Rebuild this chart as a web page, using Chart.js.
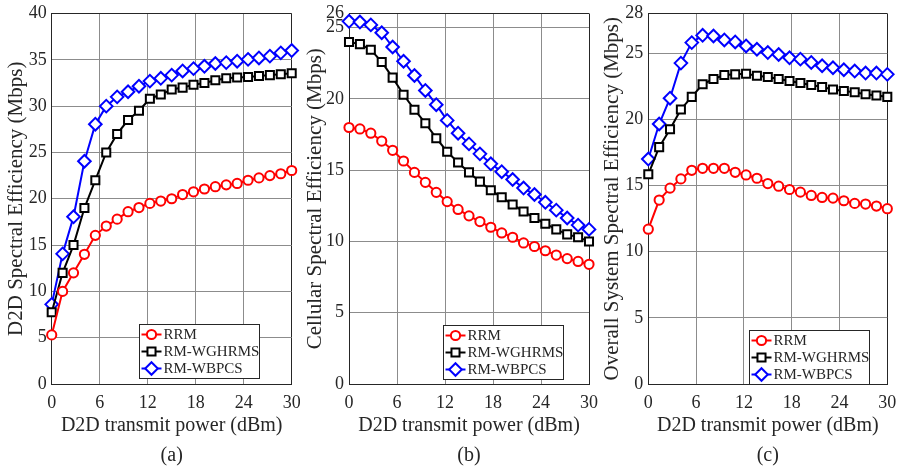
<!DOCTYPE html>
<html lang="en">
<head>
<meta charset="UTF-8">
<title>Spectral efficiency vs D2D transmit power</title>
<style>
    body { margin: 0; background: #fff; }
    .panel { position: absolute; top: 0; width: 300px; height: 468px; }
    #pa { left: 0; }
    #pb { left: 300px; }
    #pc { left: 599px; }
</style>
</head>
<body>
<div class="panel" id="pa"><canvas id="chartA" width="300" height="468"></canvas></div>
<div class="panel" id="pb"><canvas id="chartB" width="300" height="468"></canvas></div>
<div class="panel" id="pc"><canvas id="chartC" width="300" height="468"></canvas></div>

<script src="https://cdnjs.cloudflare.com/ajax/libs/Chart.js/4.4.1/chart.umd.min.js"></script>
<script>
// x values (dBm)
const power = [0, 1.364, 2.727, 4.091, 5.455, 6.818, 8.182, 9.545, 10.909, 12.273, 13.636, 15,
               16.364, 17.727, 19.091, 20.455, 21.818, 23.182, 24.545, 25.909, 27.273, 28.636, 30];
const xTicks = [0, 6, 12, 18, 24, 30];
const names = ['RRM', 'RM-WGHRMS', 'RM-WBPCS'];

// (a) D2D spectral efficiency
const d2dRRM = [5.3, 10.0, 12.0, 14.0, 16.05, 17.05, 17.8, 18.6, 19.05, 19.5, 19.75, 20.0,
                20.45, 20.75, 21.05, 21.3, 21.5, 21.65, 22.0, 22.25, 22.5, 22.7, 23.05];
const d2dWGHRMS = [7.75, 12.0, 15.0, 19.0, 22.0, 25.0, 27.0, 28.5, 29.5, 30.8, 31.25, 31.8,
                   32.0, 32.3, 32.5, 32.8, 33.0, 33.1, 33.15, 33.25, 33.35, 33.45, 33.55];
const d2dWBPCS = [8.6, 14.05, 18.05, 24.05, 28.05, 30.0, 31.0, 31.55, 32.15, 32.7, 33.0, 33.35,
                  33.8, 34.05, 34.3, 34.6, 34.7, 34.85, 35.05, 35.2, 35.4, 35.75, 36.0];
const d2dTicks = [0, 5, 10, 15, 20, 25, 30, 35, 40];

// (b) cellular spectral efficiency
const cellRRM = [18.0, 17.9, 17.6, 17.05, 16.4, 15.65, 14.85, 14.15, 13.45, 12.8, 12.25, 11.8,
                 11.4, 11.0, 10.6, 10.3, 9.9, 9.65, 9.35, 9.05, 8.8, 8.6, 8.4];
const cellWGHRMS = [24.0, 23.85, 23.45, 22.6, 21.5, 20.3, 19.25, 18.3, 17.25, 16.3, 15.55, 14.85,
                    14.2, 13.6, 13.1, 12.6, 12.1, 11.65, 11.25, 10.85, 10.5, 10.3, 10.0];
const cellWBPCS = [25.45, 25.4, 25.2, 24.65, 23.65, 22.65, 21.65, 20.6, 19.6, 18.5, 17.6, 16.85,
                   16.15, 15.45, 14.9, 14.35, 13.75, 13.3, 12.75, 12.2, 11.65, 11.15, 10.85];
const cellTicks = [0, 5, 10, 15, 20, 25, 26];

// (c) overall system spectral efficiency
const sysRRM = [11.7, 13.9, 14.8, 15.5, 16.15, 16.3, 16.3, 16.3, 16.0, 15.8, 15.55, 15.15,
                14.95, 14.7, 14.5, 14.25, 14.1, 14.05, 13.85, 13.65, 13.6, 13.45, 13.25];
const sysWGHRMS = [15.85, 17.9, 19.25, 20.75, 21.7, 22.65, 23.05, 23.35, 23.4, 23.45, 23.3, 23.2,
                   23.05, 22.9, 22.75, 22.6, 22.45, 22.25, 22.15, 22.05, 21.9, 21.8, 21.7];
const sysWBPCS = [17.0, 19.65, 21.6, 24.25, 25.8, 26.35, 26.3, 26.0, 25.85, 25.55, 25.3, 25.05,
                  24.9, 24.65, 24.55, 24.3, 24.05, 23.9, 23.75, 23.65, 23.5, 23.5, 23.4];
const sysTicks = [0, 5, 10, 15, 20, 25, 28];

const FONT = 'Liberation Serif';
const TXT = '#262626';
const GRID = '#8c8c8c';

const styles = [
    { color: '#ff0000', pointStyle: 'circle', pointRadius: 4.6 },
    { color: '#000000', pointStyle: 'rect', pointRadius: 5.7 },
    { color: '#0000ff', pointStyle: 'rectRot', pointRadius: 6.3 }
];

function drawMarker(ctx, style, r, x, y) {
    ctx.beginPath();
    if (style === 'circle') {
        ctx.arc(x, y, r, 0, Math.PI * 2);
    } else if (style === 'rect') {
        const s = r * Math.SQRT1_2;
        ctx.rect(x - s, y - s, 2 * s, 2 * s);
    } else {
        ctx.moveTo(x, y - r); ctx.lineTo(x + r, y); ctx.lineTo(x, y + r); ctx.lineTo(x - r, y);
        ctx.closePath();
    }
    ctx.fill();
    ctx.stroke();
}

// matlab style legend box inside the plot
const boxLegend = {
    id: 'boxLegend',
    afterDraw(chart, args, opts) {
        const { ctx, chartArea } = chart;
        const w = 120, h = 54;
        const x0 = Math.round(chartArea.right - opts.right - w) + 0.5;
        const y0 = Math.round(chartArea.bottom - opts.bottom - h) + 0.5;
        ctx.save();
        ctx.fillStyle = '#fff';
        ctx.fillRect(x0, y0, w, h);
        ctx.strokeStyle = TXT;
        ctx.lineWidth = 1;
        ctx.strokeRect(x0, y0, w, h);
        chart.data.datasets.forEach((ds, i) => {
            const y = y0 + 10 + i * 17;
            ctx.strokeStyle = ds.borderColor;
            ctx.lineWidth = 2;
            ctx.beginPath();
            ctx.moveTo(x0 + 2, y);
            ctx.lineTo(x0 + 22, y);
            ctx.stroke();
            ctx.fillStyle = '#fff';
            drawMarker(ctx, ds.pointStyle, ds.pointRadius, x0 + 12, y);
            ctx.fillStyle = TXT;
            ctx.font = '15px "' + FONT + '"';
            ctx.textBaseline = 'middle';
            ctx.fillText(ds.label, x0 + 24, y + 1);
        });
        ctx.restore();
    }
};

function makeChart(id, series, yTicks, yTitle, tag, box) {
    const yMax = yTicks[yTicks.length - 1];
    const datasets = series.map((vals, i) => ({
        label: names[i],
        data: vals.map((v, k) => ({ x: power[k], y: v })),
        borderColor: styles[i].color,
        backgroundColor: '#fff',
        borderWidth: 2,
        pointStyle: styles[i].pointStyle,
        pointRadius: styles[i].pointRadius,
        pointBorderWidth: 2,
        pointBackgroundColor: '#fff',
        tension: 0,
        clip: false
    }));
    return new Chart(document.getElementById(id), {
        type: 'line',
        data: { datasets },
        plugins: [boxLegend],
        options: {
            responsive: false,
            animation: false,
            layout: { padding: { top: 13.5, right: box.padRight, left: 0, bottom: 0 } },
            scales: {
                x: {
                    type: 'linear', min: 0, max: 30,
                    afterBuildTicks: s => { s.ticks = xTicks.map(v => ({ value: v })); },
                    afterFit: s => { s.height = 54; s.paddingLeft = 0; s.paddingRight = 0; },
                    border: { color: TXT, width: 1 },
                    grid: {
                        drawTicks: false,
                        color: c => (c.tick && c.tick.value === 30) ? TXT : GRID
                    },
                    ticks: { padding: 8, autoSkip: false, maxRotation: 0, color: TXT,
                             font: { family: FONT, size: 18 } },
                    title: { display: true, text: 'D2D transmit power (dBm)', color: TXT,
                             font: { family: FONT, size: 20 }, padding: { top: 0, bottom: 0 } }
                },
                y: {
                    type: 'linear', min: 0, max: yMax,
                    afterBuildTicks: s => { s.ticks = yTicks.map(v => ({ value: v })); },
                    afterFit: s => { s.width = box.axisW; s.paddingTop = 0; s.paddingBottom = 0; },
                    border: { color: TXT, width: 1 },
                    grid: {
                        drawTicks: false,
                        color: c => (c.tick && c.tick.value === yMax) ? TXT : GRID
                    },
                    ticks: { padding: 5, autoSkip: false, color: TXT,
                             font: { family: FONT, size: 18 } },
                    title: { display: true, text: yTitle, color: TXT,
                             font: { family: FONT, size: 21 }, padding: { top: box.titlePad, bottom: 0 } }
                }
            },
            plugins: {
                legend: { display: false },
                tooltip: { enabled: false },
                title: { display: true, text: tag, position: 'bottom', fullSize: false, color: TXT,
                         font: { family: FONT, size: 20, weight: 'normal' }, padding: { top: 6, bottom: 0 } },
                boxLegend: box.legend
            }
        }
    });
}

makeChart('chartA', [d2dRRM, d2dWGHRMS, d2dWBPCS], d2dTicks,
    'D2D Spectral Efficiency (Mbps)', '(a)',
    { axisW: 51.7, padRight: 8.3, titlePad: 4, legend: { right: 33, bottom: 6.5 } });
makeChart('chartB', [cellRRM, cellWGHRMS, cellWBPCS], cellTicks,
    'Cellular Spectral Efficiency (Mbps)', '(b)',
    { axisW: 49, padRight: 11, titlePad: 3, legend: { right: 26.5, bottom: 5 } });
makeChart('chartC', [sysRRM, sysWGHRMS, sysWBPCS], sysTicks,
    'Overall System Spectral Efficiency (Mbps)', '(c)',
    { axisW: 49.3, padRight: 11.7, titlePad: 1, legend: { right: 18, bottom: 0 } });
</script>
</body>
</html>
